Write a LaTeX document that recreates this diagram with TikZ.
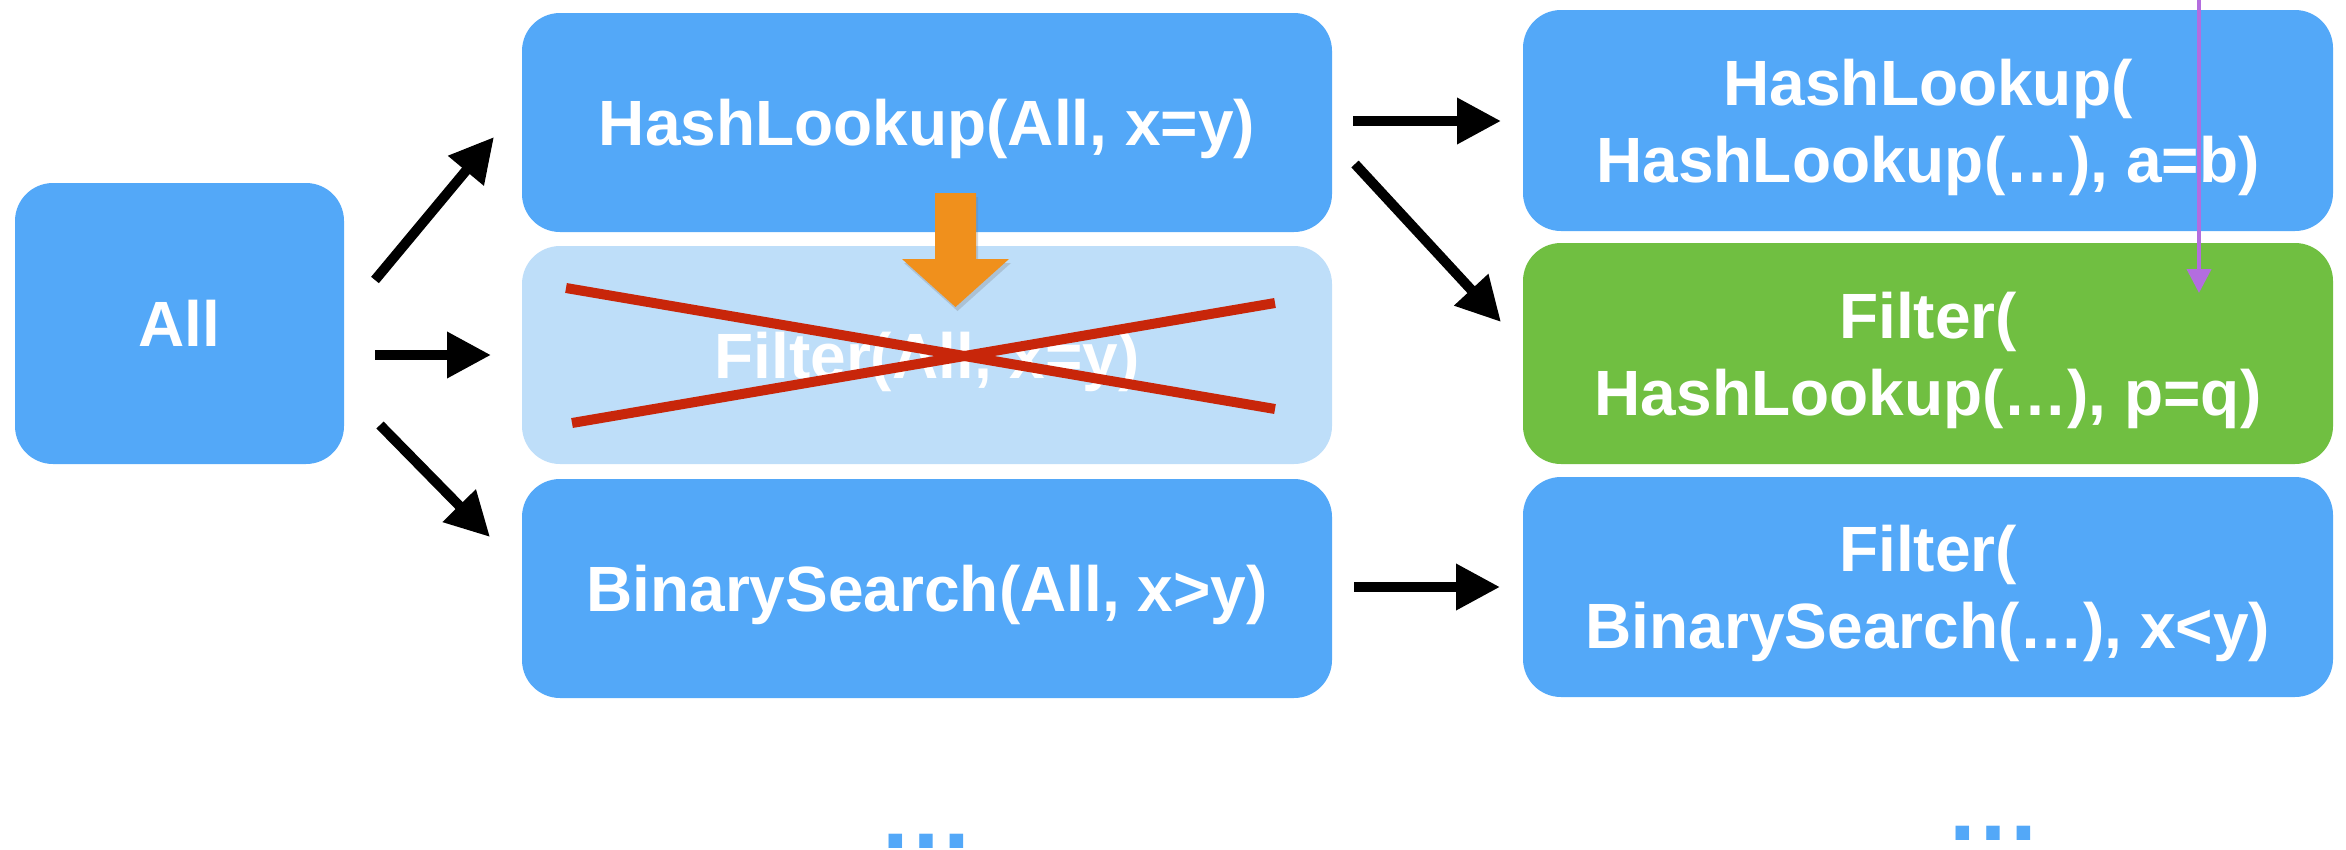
\documentclass[tikz,border=0pt]{standalone}
\usepackage{fontspec}
\setmainfont{Liberation Sans}
\usetikzlibrary{arrows.meta,shadows}
\definecolor{boxblue}{RGB}{83,168,248}
\definecolor{lightblue}{RGB}{190,222,249}
\definecolor{boxgreen}{RGB}{112,191,65}
\definecolor{arroworange}{RGB}{240,144,28}
\definecolor{crossred}{RGB}{200,38,10}
\definecolor{linepurple}{RGB}{179,109,223}
\tikzset{
  opbox/.style={rounded corners=38pt, inner sep=0pt, text=white,
    font=\fontsize{64}{77}\selectfont\bfseries, align=center, text depth=0pt},
  bluebox/.style={opbox, fill=boxblue},
  fadedbox/.style={opbox, fill=lightblue},
  greenbox/.style={opbox, fill=boxgreen},
  flow/.style={line width=10pt, -{Triangle[length=44pt,width=44pt]}},
  cross/.style={line width=10pt, draw=crossred},
  pushdown/.style={fill=arroworange, drop shadow={opacity=0.3, shadow xshift=2pt, shadow yshift=-4pt}},
  probe/.style={line width=4pt, draw=linepurple, -{Triangle[length=24pt,width=24pt]}},
  more/.style={text=boxblue, font=\fontsize{96}{96}\selectfont\bfseries, anchor=base, inner sep=0pt}
}
\begin{document}
\begin{tikzpicture}[x=1pt,y=-1pt]
\useasboundingbox (0,0) rectangle (2346,849);
% boxes
\node[bluebox, minimum width=329pt, minimum height=281pt] (all) at (179.5,323.5) {All};
\node[bluebox, minimum width=810pt, minimum height=219pt] (hl) at (927,122.5) {HashLookup(All, x=y)};
\node[fadedbox, minimum width=810pt, minimum height=218pt] (flt) at (927,355) {Filter(All, x=y)};
\node[bluebox, minimum width=810pt, minimum height=219pt] (bs) at (927,588.5) {BinarySearch(All, x>y)};
\node[bluebox, minimum width=810pt, minimum height=221pt] (hl2) at (1928,120.5) {HashLookup(\\HashLookup(…), a=b)};
\node[greenbox, minimum width=810pt, minimum height=221pt] (fg) at (1928,353.5) {Filter(\\HashLookup(…), p=q)};
\node[bluebox, minimum width=810pt, minimum height=220pt] (fb) at (1928,587) {Filter(\\BinarySearch(…), x<y)};
% connectors
\draw[flow] ([shift={(195.5,-43.5)}]all.center) -- ([shift={(-433,14.5)}]hl.center);
\draw[flow] ([shift={(195.5,31.5)}]all.center) -- ([shift={(-436,0)}]flt.center);
\draw[flow] ([shift={(200.5,101.5)}]all.center) -- ([shift={(-437,-51.5)}]bs.center);
\draw[flow] ([shift={(426,-1.5)}]hl.center) -- ([shift={(-427,0.5)}]hl2.center);
\draw[flow] ([shift={(428,41.5)}]hl.center) -- ([shift={(-427,-31.5)}]fg.center);
\draw[flow] ([shift={(427,-1.5)}]bs.center) -- ([shift={(-428,0)}]fb.center);
% cross over the pruned alternative
\draw[cross] (566,288) -- (1275,409);
\draw[cross] (572,423) -- (1275,303);
% orange push-down arrow
\path[pushdown] (935,193) -- (976,193) -- (976,259) -- (1009,259) -- (955.5,307) -- (902,259) -- (935,259) -- cycle;
% purple probe
\coordinate (ptop) at (2199,0);
\draw[probe] (ptop) -- ([shift={(271,-60.5)}]fg.center);
% ellipses
\node[more] (dots1) at (926,848) {…};
\node[more] (dots2) at (1993,840) {…};
\end{tikzpicture}
\end{document}
